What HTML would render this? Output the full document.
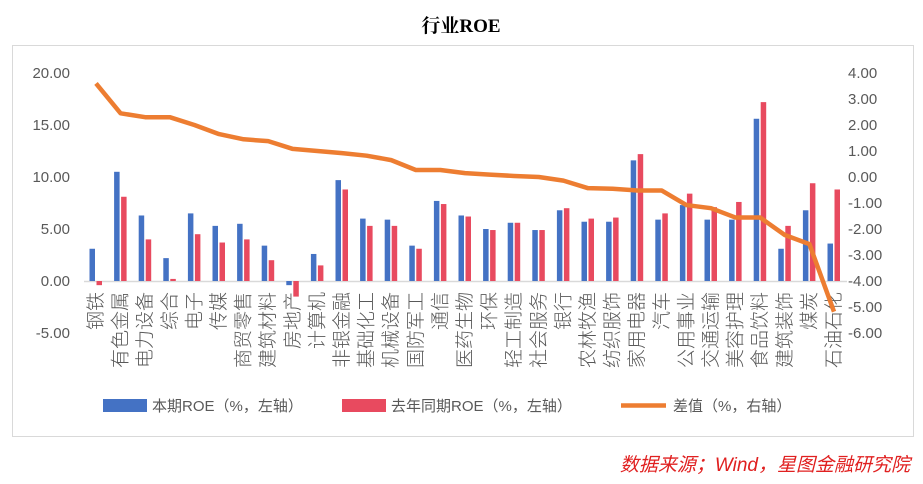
<!DOCTYPE html><html><head><meta charset="utf-8"><style>body{margin:0;background:#fff}svg{display:block}</style></head><body>
<svg width="923" height="484" xmlns="http://www.w3.org/2000/svg" font-family="Liberation Sans, Noto Sans CJK SC, sans-serif">
<rect x="12.5" y="45.5" width="901" height="391" fill="#fff" stroke="#d9d9d9"/>
<text x="461" y="32" text-anchor="middle" font-size="19" font-weight="bold" fill="#000" font-family="Liberation Serif, Noto Serif CJK SC, serif">行业ROE</text>
<g id="g"></g>
<text x="910" y="471" text-anchor="end" font-size="19" font-style="italic" fill="#e02020">数据来源；Wind，星图金融研究院</text>
</svg>
<script>
const cats="钢铁,有色金属,电力设备,综合,电子,传媒,商贸零售,建筑材料,房地产,计算机,非银金融,基础化工,机械设备,国防军工,通信,医药生物,环保,轻工制造,社会服务,银行,农林牧渔,纺织服饰,家用电器,汽车,公用事业,交通运输,美容护理,食品饮料,建筑装饰,煤炭,石油石化".split(",");
const b=[3.1,10.5,6.3,2.2,6.5,5.3,5.5,3.4,-0.4,2.6,9.7,6.0,5.9,3.4,7.7,6.3,5.0,5.6,4.9,6.8,5.7,5.7,11.6,5.9,7.3,5.9,5.9,15.6,3.1,6.8,3.6];
const r=[-0.4,8.1,4.0,0.2,4.5,3.7,4.0,2.0,-1.5,1.5,8.8,5.3,5.3,3.1,7.4,6.2,4.9,5.6,4.9,7.0,6.0,6.1,12.2,6.5,8.4,7.1,7.6,17.2,5.3,9.4,8.8];
const d=[3.6,2.45,2.3,2.3,2.0,1.65,1.45,1.38,1.08,1.0,0.92,0.82,0.65,0.27,0.27,0.15,0.09,0.04,0.0,-0.14,-0.43,-0.45,-0.52,-0.52,-1.08,-1.2,-1.56,-1.56,-2.23,-2.58,-5.18];
const Y=v=>281-v*10.4, R=v=>177-v*26, X=i=>96+i*24.6;
let s="";
for(let k=0;k<6;k++){let v=20-5*k;s+=`<text x="70" y="${Y(v)+5}" text-anchor="end" font-size="15" fill="#595959">${v.toFixed(2)}</text>`;}
for(let k=0;k<11;k++){let v=4-k;s+=`<text x="848" y="${R(v)+5}" font-size="15" fill="#595959">${v.toFixed(2)}</text>`;}
s+=`<line x1="84" x2="847" y1="281.5" y2="281.5" stroke="#d9d9d9" stroke-width="1.5"/>`;
cats.forEach((c,i)=>{let x=X(i);
const bar=(x0,v,col)=>{let y1=Y(Math.max(v,0)),y2=Y(Math.min(v,0));s+=`<rect x="${x0}" y="${y1}" width="5.5" height="${y2-y1}" fill="${col}"/>`;};
bar(x-6.5,b[i],"#4472c4");bar(x+0.5,r[i],"#e84a5f");
s+=`<text transform="translate(${x+6},292) rotate(-90)" text-anchor="end" font-size="19" font-weight="300" fill="#595959">${c}</text>`;});
s+=`<polyline fill="none" stroke="#ed7d31" stroke-width="4.5" stroke-linejoin="round" points="${d.map((v,i)=>X(i)+","+R(v)).join(" ")}"/>`;
s+=`<rect x="103" y="399" width="44" height="13" fill="#4472c4"/><text x="152" y="411" font-size="15" fill="#595959">本期ROE（%，左轴）</text>`;
s+=`<rect x="342" y="399" width="44" height="13" fill="#e84a5f"/><text x="391" y="411" font-size="15" fill="#595959">去年同期ROE（%，左轴）</text>`;
s+=`<line x1="621" x2="666" y1="405.5" y2="405.5" stroke="#ed7d31" stroke-width="4.5"/><text x="673" y="411" font-size="15" fill="#595959">差值（%，右轴）</text>`;
document.getElementById("g").innerHTML=s;
</script></body></html>
